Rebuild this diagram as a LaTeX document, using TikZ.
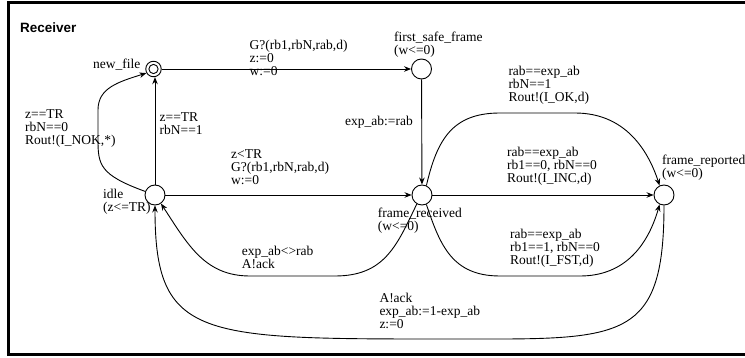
\documentclass[tikz,border=0pt]{standalone}
\usepackage{fontspec}
\setmainfont{Liberation Serif}
\newfontfamily\titlefont{Liberation Sans}
\usetikzlibrary{arrows.meta}
\newcommand\lblfont{\fontsize{13.5}{13}\selectfont}
\begin{document}
\begin{tikzpicture}[x=1pt,y=-1pt,
  state/.style={circle, draw, line width=0.9pt, minimum size=20pt, inner sep=0pt},
  edge/.style={draw, line width=0.9pt, -{Stealth[length=7pt, width=5.5pt]}},
  lbl/.style={inner sep=0pt, align=left, font=\lblfont, anchor=north west,
              execute at begin node={\rule{0pt}{10.5pt}}},
  lblr/.style={lbl, anchor=north east, align=right}]
\useasboundingbox (0,0) rectangle (745,358);
% frame
\draw[line width=3pt] (748,2.5) -- (8.5,2.5) -- (8.5,355) -- (748,355);
\node[anchor=base west, inner sep=0pt, font=\titlefont\bfseries\fontsize{13.5}{14}\selectfont] (title) at (20,32.3) {Receiver};
% states
\node[state, minimum size=15.5pt] (nf) at (153.5,69) {};
\draw[line width=0.9pt] (nf.center) circle (4.6pt);
\node[state] (fsf) at (421.5,69) {};
\node[state] (idle) at (155,195) {};
\node[state] (fr) at (422,195) {};
\node[state] (frep) at (664,195) {};
% edges
\draw[edge] (nf) -- (fsf);
\draw[edge] (fsf) -- (fr);
\draw[edge] (idle) -- (idle |- nf.south);
\draw[edge] (idle) -- (fr);
\draw[edge] (fr) -- (frep);
\draw[edge] (idle.160) .. controls (100,175) and (98,165) .. (98,140) -- (98,110) .. controls (98,88) and (118,82) .. (nf.210);
\draw[edge] (fr.240) .. controls (397,245) and (385,276) .. (335,276) -- (250,276) .. controls (205,276) and (188,245) .. (idle.-55);
\draw[edge] (fr.65) .. controls (437,140) and (452,113) .. (500,113) -- (575,113) .. controls (625,113) and (648,150) .. (frep.115);
\draw[edge] (fr.-65) .. controls (440,245) and (452,276) .. (500,276) -- (580,276) .. controls (625,276) and (648,245) .. (frep.-115);
\draw[edge] (frep.south) .. controls (664,345) and (620,339) .. (450,339) .. controls (200,339) and (155,340) .. (idle.south);
% labels
\node[lblr] (lnf) at (140.5,57.5) {new\_file};
\node[lbl] (lfsf) at (394,31.5) {first\_safe\_frame\\(w<=0)};
\node[lbl] (l1) at (249.5,40) {G?(rb1,rbN,rab,d)\\z:=0\\w:=0};
\node[lblr] (l2) at (413,114.7) {exp\_ab:=rab};
\node[lbl] (l3) at (25,109) {z==TR\\rbN==0\\Rout!(I\_NOK,*)};
\node[lbl] (l4) at (159.5,112) {z==TR\\rbN==1};
\node[lbl] (lidle) at (103,188.8) {idle\\(z<=TR)};
\node[lbl] (l5) at (231,149) {z<TR\\G?(rb1,rbN,rab,d)\\w:=0};
\node[lbl] (lfr) at (377.7,207.8) {frame\_received\\(w<=0)};
\node[lbl] (l6) at (241.7,246) {exp\_ab<>rab\\A!ack};
\node[lbl] (l7) at (508.3,66) {rab==exp\_ab\\rbN==1\\Rout!(I\_OK,d)};
\node[lbl] (l8) at (507,146.8) {rab==exp\_ab\\rb1==0, rbN==0\\Rout!(I\_INC,d)};
\node[lbl] (l9) at (510,228.8) {rab==exp\_ab\\rb1==1, rbN==0\\Rout!(I\_FST,d)};
\node[lbl] (l10) at (379.3,292.8) {A!ack\\exp\_ab:=1-exp\_ab\\z:=0};
\node[lbl] (lfrep) at (662,154.5) {frame\_reported\\(w<=0)};
\end{tikzpicture}
\end{document}
